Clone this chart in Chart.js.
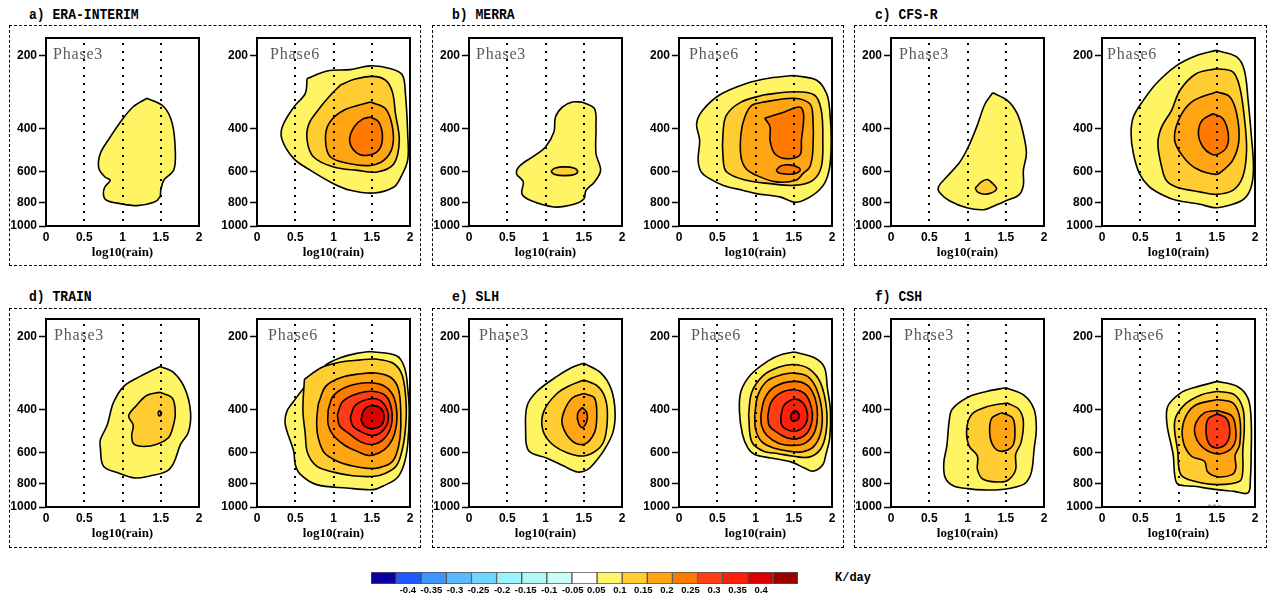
<!DOCTYPE html>
<html>
<head>
<meta charset="utf-8">
<script src="https://cdn.jsdelivr.net/npm/chart.js@4.4.1/dist/chart.umd.min.js"></script>
<style>
  body { margin: 0; background: #fff; width: 1273px; height: 599px; position: relative; overflow: hidden; }
  .box { position: absolute; border: 1px dashed #000; box-sizing: border-box; }
  .ttl { position: absolute; font: bold 15px "Liberation Mono", monospace; line-height: 1; white-space: pre; transform: scaleX(0.87); transform-origin: left top; }
  .phase { position: absolute; font: 16px "Liberation Serif", serif; color: #5a5a5a; line-height: 1; letter-spacing: 0.8px; white-space: pre; }
  .unit { position: absolute; font: bold 12px "Liberation Mono", monospace; line-height: 1; }
  canvas { position: absolute; }
</style>
</head>
<body>
<script>
// Contour levels (K/day) and their fill colours
const levels = [-0.05, 0.05, 0.1, 0.15, 0.2, 0.25, 0.3, 0.35];
const levelFills = ['#C8FFF5', '#FFF564', '#FFCD32', '#FFA514', '#FF7800', '#FF3C14', '#FF1E0A', '#DC0000'];

// axes
const xTicks = [0, 0.5, 1, 1.5, 2];
const xGuides = [0.5, 1, 1.5];
const pTicks = [200, 400, 600, 800, 1000];
const pTop = 170, pBottom = 1000;

// colour bar
const cbarColors = ['#0A00A0', '#1E5AFF', '#3C96FF', '#5AB9FF', '#6ED7FF', '#98F5FF', '#AFFAF2', '#C8FFF5', '#FFFFFF',
  '#FFF564', '#FFCD32', '#FFA514', '#FF7800', '#FF3C14', '#FF1E0A', '#DC0000', '#9B0000'];
const cbarLabels = ['-0.4', '-0.35', '-0.3', '-0.25', '-0.2', '-0.15', '-0.1', '-0.05',
  '0.05', '0.1', '0.15', '0.2', '0.25', '0.3', '0.35', '0.4'];

const panelTitles = ['a) ERA-INTERIM', 'b) MERRA', 'c) CFS-R', 'd) TRAIN', 'e) SLH', 'f) CSH'];
const phaseNames = ['Phase3', 'Phase6'];

// contour rings: [level, [[log10(rain), hPa], ...]]
const eraP3 = [
  [0.05, [[1.32,300],[1.54,325],[1.65,380],[1.69,490],[1.67,590],[1.54,650],[1.50,715],[1.49,760],[1.41,800],[1.19,825],[0.97,810],[0.79,785],[0.75,740],[0.77,692],[0.84,650],[0.77,630],[0.69,580],[0.71,505],[0.84,432],[0.99,369],[1.14,325]]]
];
const eraP6 = [
  [0.05, [[0.655,249],[0.917,232],[1.22,229],[1.485,221],[1.75,227],[1.90,241],[1.94,287],[1.97,419],[1.97,538],[1.88,631],[1.79,692],[1.53,733],[1.22,714],[1.0,671],[0.70,592],[0.48,530],[0.33,446],[0.33,393],[0.48,326],[0.63,287]]],
  [0.1, [[1.09,265],[1.27,251],[1.51,244],[1.68,253],[1.77,283],[1.81,347],[1.86,446],[1.79,556],[1.57,601],[1.31,592],[1.0,574],[0.74,522],[0.655,446],[0.68,381],[0.83,326],[0.98,287]]],
  [0.15, [[1.485,311],[1.68,331],[1.77,393],[1.77,475],[1.66,538],[1.485,565],[1.22,556],[0.96,522],[0.895,446],[0.94,381],[1.135,336]]],
  [0.2, [[1.485,358],[1.59,375],[1.64,432],[1.59,490],[1.44,514],[1.29,498],[1.21,446],[1.27,393],[1.375,366]]]
];
const merraP3 = [
  [0.05, [[1.48,311],[1.64,331],[1.66,393],[1.66,505],[1.72,592],[1.64,660],[1.53,715],[1.50,775],[1.37,815],[1.11,836],[0.80,785],[0.69,737],[0.71,660],[0.62,610],[0.67,565],[0.87,512],[1.0,475],[1.11,412],[1.13,358],[1.22,326],[1.35,311]]],
  [0.1, [[1.07,598],[1.12,580],[1.25,573],[1.38,580],[1.42,598],[1.38,615],[1.25,622],[1.12,615]]]
];
const merraP6 = [
  [0.05, [[1.50,242],[1.80,253],[1.93,287],[1.97,336],[1.99,446],[1.97,573],[1.90,671],[1.75,748],[1.53,800],[1.32,760],[1.01,737],[0.84,715],[0.58,682],[0.40,640],[0.29,600],[0.25,538],[0.27,446],[0.23,381],[0.31,336],[0.53,291],[0.88,261],[1.19,248]]],
  [0.1, [[1.10,291],[1.50,282],[1.77,291],[1.86,336],[1.88,446],[1.86,573],[1.75,650],[1.51,682],[1.19,671],[0.88,650],[0.62,600],[0.575,520],[0.575,419],[0.62,352],[0.81,311]]],
  [0.15, [[1.10,311],[1.50,300],[1.71,316],[1.75,358],[1.75,490],[1.71,573],[1.62,610],[1.53,650],[1.27,660],[1.01,620],[0.88,585],[0.81,520],[0.81,419],[0.86,358],[0.95,321]]],
  [0.2, [[1.12,362],[1.36,343],[1.58,326],[1.63,352],[1.60,446],[1.58,512],[1.40,530],[1.25,505],[1.19,446],[1.19,393]]],
  [0.2, [[1.27,590],[1.33,568],[1.45,562],[1.57,578],[1.58,595],[1.50,612],[1.38,612],[1.30,605]]]
];
const cfsrP3 = [
  [0.05, [[1.33,285],[1.52,306],[1.65,347],[1.73,419],[1.77,505],[1.73,592],[1.73,682],[1.67,748],[1.52,785],[1.34,830],[1.21,858],[0.99,842],[0.77,790],[0.64,733],[0.62,692],[0.73,629],[0.90,547],[1.01,475],[1.12,393],[1.23,316]]],
  [0.1, [[1.10,700],[1.18,660],[1.26,645],[1.33,670],[1.38,705],[1.30,735],[1.20,740],[1.13,725]]]
];
const cfsrP6 = [
  [0.05, [[1.49,191],[1.76,203],[1.86,230],[1.91,306],[1.95,419],[1.98,573],[1.95,692],[1.86,773],[1.71,815],[1.49,842],[1.28,815],[0.97,785],[0.80,748],[0.62,692],[0.49,610],[0.41,505],[0.38,419],[0.41,358],[0.54,306],[0.71,261],[0.97,221],[1.23,201]]],
  [0.1, [[1.49,227],[1.71,234],[1.80,270],[1.86,358],[1.89,490],[1.84,629],[1.71,715],[1.49,742],[1.28,725],[0.97,692],[0.84,650],[0.78,573],[0.73,460],[0.78,393],[0.91,336],[1.02,278],[1.23,238]]],
  [0.15, [[1.50,282],[1.67,296],[1.76,347],[1.79,446],[1.71,538],[1.58,592],[1.49,615],[1.23,582],[1.06,520],[0.95,446],[1.0,369],[1.17,311]]],
  [0.2, [[1.45,347],[1.58,363],[1.65,419],[1.63,475],[1.52,508],[1.43,508],[1.32,475],[1.26,419],[1.31,369]]]
];
const trainP3 = [
  [0.05, [[1.49,266],[1.67,282],[1.82,330],[1.89,411],[1.86,496],[1.76,553],[1.67,660],[1.58,713],[1.36,746],[1.15,760],[0.93,723],[0.75,680],[0.71,570],[0.71,530],[0.80,462],[0.88,375],[1.02,320],[1.23,292]]],
  [0.1, [[1.49,339],[1.65,358],[1.69,411],[1.66,470],[1.60,521],[1.45,553],[1.28,565],[1.15,553],[1.12,512],[1.14,462],[1.08,424],[1.17,388],[1.32,349]]],
  [0.15, [[1.46,414],[1.485,404],[1.51,414],[1.485,424]]]
];
const trainP6 = [
  [0.05, [[1.48,231],[1.83,241],[1.93,270],[1.97,326],[1.99,406],[1.97,556],[1.92,671],[1.83,761],[1.65,820],[1.52,849],[1.17,836],[0.78,810],[0.57,737],[0.50,671],[0.48,592],[0.37,460],[0.39,406],[0.48,369],[0.65,315],[0.91,261],[1.09,245],[1.30,235]]],
  [0.1, [[0.62,300],[0.85,268],[1.1,255],[1.35,250],[1.55,248],[1.78,258],[1.9,290],[1.95,380],[1.94,480],[1.9,580],[1.82,680],[1.65,735],[1.5,750],[1.25,745],[1.0,720],[0.78,680],[0.66,600],[0.63,500],[0.6,400]]],
  [0.15, [[0.80,380],[0.9,320],[1.1,295],[1.35,285],[1.55,283],[1.75,295],[1.85,330],[1.88,420],[1.87,520],[1.82,610],[1.75,660],[1.6,690],[1.45,695],[1.25,680],[1.05,650],[0.88,600],[0.80,520],[0.78,450]]],
  [0.2, [[0.93,400],[1.0,350],[1.2,320],[1.45,310],[1.65,318],[1.78,350],[1.83,420],[1.8,500],[1.72,560],[1.6,600],[1.45,615],[1.3,590],[1.15,560],[1.0,510],[0.93,460]]],
  [0.25, [[1.05,420],[1.12,370],[1.3,345],[1.5,336],[1.68,350],[1.76,400],[1.75,470],[1.65,530],[1.5,555],[1.35,540],[1.2,500],[1.08,465]]],
  [0.3, [[1.22,430],[1.28,385],[1.45,362],[1.6,365],[1.7,400],[1.71,450],[1.62,495],[1.5,510],[1.35,490],[1.25,465]]],
  [0.35, [[1.36,440],[1.4,400],[1.5,385],[1.62,395],[1.66,430],[1.62,465],[1.5,478],[1.4,465]]]
];
const slhP3 = [
  [0.05, [[1.50,258],[1.72,282],[1.86,330],[1.91,411],[1.88,496],[1.77,582],[1.64,660],[1.55,703],[1.42,719],[1.24,680],[1.02,631],[0.78,589],[0.74,478],[0.76,385],[0.89,336],[1.15,292],[1.35,268]]],
  [0.1, [[1.50,302],[1.68,320],[1.78,358],[1.81,427],[1.77,530],[1.68,582],[1.50,618],[1.29,601],[1.07,547],[0.96,478],[0.98,404],[1.15,343],[1.33,317]]],
  [0.15, [[1.50,343],[1.64,358],[1.67,424],[1.64,496],[1.51,553],[1.35,538],[1.22,462],[1.24,408],[1.35,358]]],
  [0.2, [[1.48,391],[1.54,411],[1.54,446],[1.48,474],[1.43,452],[1.42,414]]]
];
const slhP6 = [
  [0.05, [[1.51,232],[1.77,245],[1.90,268],[1.94,326],[1.98,406],[1.97,522],[1.92,610],[1.88,671],[1.75,714],[1.64,692],[1.47,655],[1.20,630],[0.99,610],[0.90,573],[0.83,505],[0.79,406],[0.81,336],[0.94,287],[1.16,253],[1.33,238]]],
  [0.1, [[0.91,420],[0.95,340],[1.1,290],[1.3,268],[1.5,261],[1.7,272],[1.85,310],[1.93,400],[1.92,500],[1.85,580],[1.7,625],[1.5,620],[1.3,605],[1.1,590],[0.95,540]]],
  [0.15, [[0.99,420],[1.03,350],[1.15,305],[1.35,287],[1.5,283],[1.68,292],[1.8,330],[1.87,410],[1.85,500],[1.75,570],[1.6,595],[1.45,592],[1.25,575],[1.08,540],[1.0,480]]],
  [0.2, [[1.07,420],[1.12,360],[1.25,322],[1.5,306],[1.68,318],[1.78,360],[1.81,420],[1.77,495],[1.65,548],[1.5,560],[1.3,548],[1.15,510],[1.08,465]]],
  [0.25, [[1.16,425],[1.2,375],[1.32,342],[1.5,331],[1.65,345],[1.73,390],[1.74,440],[1.68,495],[1.55,525],[1.42,522],[1.28,495],[1.18,465]]],
  [0.3, [[1.33,430],[1.37,385],[1.5,362],[1.62,375],[1.68,420],[1.64,465],[1.52,490],[1.4,480],[1.34,460]]],
  [0.35, [[1.46,422],[1.5,405],[1.56,412],[1.57,430],[1.52,445],[1.47,440]]]
];
const cshP3 = [
  [0.05, [[1.50,325],[1.74,349],[1.87,398],[1.90,478],[1.87,582],[1.85,680],[1.82,746],[1.74,806],[1.48,846],[1.21,851],[1.0,841],[0.82,821],[0.71,760],[0.69,660],[0.73,562],[0.76,446],[0.80,398],[1.0,356],[1.26,336]]],
  [0.1, [[1.52,375],[1.67,398],[1.73,446],[1.70,545],[1.63,608],[1.63,703],[1.54,772],[1.43,790],[1.21,772],[1.13,703],[1.13,619],[1.02,562],[0.99,478],[1.06,416],[1.26,388]]],
  [0.15, [[1.45,411],[1.59,432],[1.62,496],[1.59,562],[1.45,592],[1.34,565],[1.29,496],[1.32,432]]]
];
const cshP6 = [
  [0.05, [[1.51,306],[1.77,321],[1.91,360],[1.95,446],[1.95,610],[1.94,761],[1.91,876],[1.73,863],[1.51,849],[1.21,823],[0.99,805],[0.95,737],[0.93,610],[0.85,460],[0.86,387],[1.03,341],[1.21,324]]],
  [0.1, [[1.51,336],[1.73,347],[1.84,393],[1.86,475],[1.84,592],[1.84,714],[1.80,785],[1.51,810],[1.21,785],[1.03,737],[0.99,592],[0.95,446],[1.08,381],[1.30,347]]],
  [0.15, [[1.51,363],[1.71,375],[1.80,432],[1.80,556],[1.74,615],[1.75,692],[1.70,737],[1.51,752],[1.38,718],[1.34,650],[1.17,620],[1.06,538],[1.07,446],[1.21,385]]],
  [0.2, [[1.51,403],[1.70,425],[1.75,490],[1.73,552],[1.64,592],[1.51,606],[1.34,578],[1.23,522],[1.22,460],[1.34,412]]],
  [0.25, [[1.51,416],[1.63,435],[1.67,490],[1.63,547],[1.51,573],[1.40,551],[1.36,490],[1.39,435]]],
  [-0.05, [[1.33,1010],[1.37,990],[1.45,984],[1.53,988],[1.57,1010]]]
];

const plots = [[eraP3, eraP6], [merraP3, merraP6], [cfsrP3, cfsrP6],
               [trainP3, trainP6], [slhP3, slhP6], [cshP3, cshP6]];

// page layout (px)
const colLeft = [46, 469, 891];
const colRight = [257, 679, 1102];
const rowTop = [38, 319];
const plotW = 153, plotH = 188;
const boxL = [9, 432, 854], boxR = [421, 844, 1267];
const boxT = [25, 308], boxB = [266, 548];
const titleX = [29, 452, 875], titleTop = [8, 290];
const phaseDx = [[7, 13], [7, 10], [8, 5], [8, 11], [10, 12], [13, 12]];

const tickFont = { family: 'Liberation Sans', weight: 'bold', size: 12 };

function addDiv(cls, text, left, top) {
  const d = document.createElement('div');
  d.className = cls;
  if (text) d.textContent = text;
  d.style.left = left + 'px';
  d.style.top = top + 'px';
  document.body.appendChild(d);
  return d;
}

// dotted guide lines + plot frame on top of the contours
const framePlugin = {
  id: 'frame',
  afterDatasetsDraw(chart) {
    const { ctx, chartArea: a, scales: { x } } = chart;
    ctx.save();
    ctx.strokeStyle = '#000';
    ctx.lineWidth = 2;
    ctx.setLineDash([2, 6]);
    xGuides.forEach(v => {
      const px = Math.round(x.getPixelForValue(v));
      ctx.beginPath();
      ctx.moveTo(px, a.top + 5);
      ctx.lineTo(px, a.bottom);
      ctx.stroke();
    });
    ctx.setLineDash([]);
    ctx.strokeRect(a.left, a.top, a.width, a.height);
    ctx.restore();
  }
};

function drawPlot(rings, fx, fy) {
  const cv = document.createElement('canvas');
  cv.width = 42 + plotW + 8;
  cv.height = 10 + plotH + 34;
  cv.style.left = (fx - 42) + 'px';
  cv.style.top = (fy - 10) + 'px';
  document.body.appendChild(cv);

  // closed rings: repeat the first point at the end
  const datasets = rings.map(([lvl, pts], i) => ({
    data: pts.concat([pts[0]]).map(([x, p]) => ({ x: x, y: p })),
    showLine: true,
    fill: 'shape',
    tension: 0.35,
    backgroundColor: levelFills[levels.indexOf(lvl)],
    borderColor: lvl < 0 ? '#7aa' : '#000',
    borderWidth: 1.6,
    borderDash: lvl < 0 ? [3, 2] : [],
    pointRadius: 0,
    order: 100 - i
  }));

  new Chart(cv, {
    type: 'scatter',
    data: { datasets },
    plugins: [framePlugin],
    options: {
      responsive: false,
      animation: false,
      layout: { padding: { top: 10, right: 8, left: 0, bottom: 0 } },
      plugins: { legend: { display: false }, tooltip: { enabled: false } },
      scales: {
        x: {
          type: 'linear', min: 0, max: 2,
          afterBuildTicks: s => { s.ticks = xTicks.map(v => ({ value: v })); },
          afterFit: s => { s.height = 34; },
          ticks: { font: tickFont, color: '#000', padding: 4, maxRotation: 0, autoSkip: false, callback: v => String(v) },
          grid: { display: false, drawTicks: false },
          border: { display: false },
          title: { display: true, text: 'log10(rain)', color: '#000',
                   font: { family: 'Liberation Serif', weight: 'bold', size: 13 },
                   padding: { top: 0, bottom: 0 } }
        },
        y: {
          type: 'logarithmic', reverse: true, min: pTop, max: pBottom,
          afterBuildTicks: s => { s.ticks = pTicks.map(v => ({ value: v })); },
          afterFit: s => { s.width = 42; },
          ticks: { font: tickFont, color: '#000', padding: 2, autoSkip: false, callback: v => String(v) },
          grid: { drawOnChartArea: false, drawTicks: true, tickLength: 7, tickColor: '#000', tickWidth: 1.5 },
          border: { display: false }
        }
      }
    }
  });
}

// panels
for (let k = 0; k < 6; k++) {
  const col = k % 3, row = Math.floor(k / 3);
  const box = addDiv('box', '', boxL[col], boxT[row]);
  box.style.width = (boxR[col] - boxL[col]) + 'px';
  box.style.height = (boxB[row] - boxT[row]) + 'px';
  addDiv('ttl', panelTitles[k], titleX[col], titleTop[row]);

  const lefts = [colLeft[col], colRight[col]];
  for (let j = 0; j < 2; j++) {
    drawPlot(plots[k][j], lefts[j], rowTop[row]);
    addDiv('phase', phaseNames[j], lefts[j] + phaseDx[k][j], rowTop[row] + 8);
  }
}

// colour bar
(function () {
  const cv = document.createElement('canvas');
  cv.width = 437; cv.height = 34;
  cv.style.left = '366px'; cv.style.top = '566px';
  document.body.appendChild(cv);
  new Chart(cv, {
    type: 'bar',
    data: {
      labels: cbarColors.map((c, i) => i),
      datasets: [{
        data: cbarColors.map(() => 1),
        backgroundColor: cbarColors,
        borderColor: '#555',
        borderWidth: 1,
        borderSkipped: false,
        barPercentage: 1,
        categoryPercentage: 1
      }]
    },
    options: {
      responsive: false,
      animation: false,
      layout: { padding: { top: 6, left: 5, right: 5, bottom: 0 } },
      plugins: { legend: { display: false }, tooltip: { enabled: false } },
      scales: {
        x: { display: false },
        y: { display: false, min: 0, max: 1 },
        xt: {
          type: 'linear', position: 'bottom', min: 0, max: cbarColors.length,
          afterBuildTicks: s => { s.ticks = cbarLabels.map((t, i) => ({ value: i + 1 })); },
          afterFit: s => { s.height = 16; },
          ticks: { font: { family: 'Liberation Sans', weight: 'bold', size: 9.5 },
                   color: '#000', padding: 1, maxRotation: 0, autoSkip: false, callback: (v) => cbarLabels[v - 1] },
          grid: { display: false, drawTicks: false },
          border: { display: false }
        }
      }
    }
  });
})();
addDiv('unit', 'K/day', 835, 572);
</script>
</body>
</html>
